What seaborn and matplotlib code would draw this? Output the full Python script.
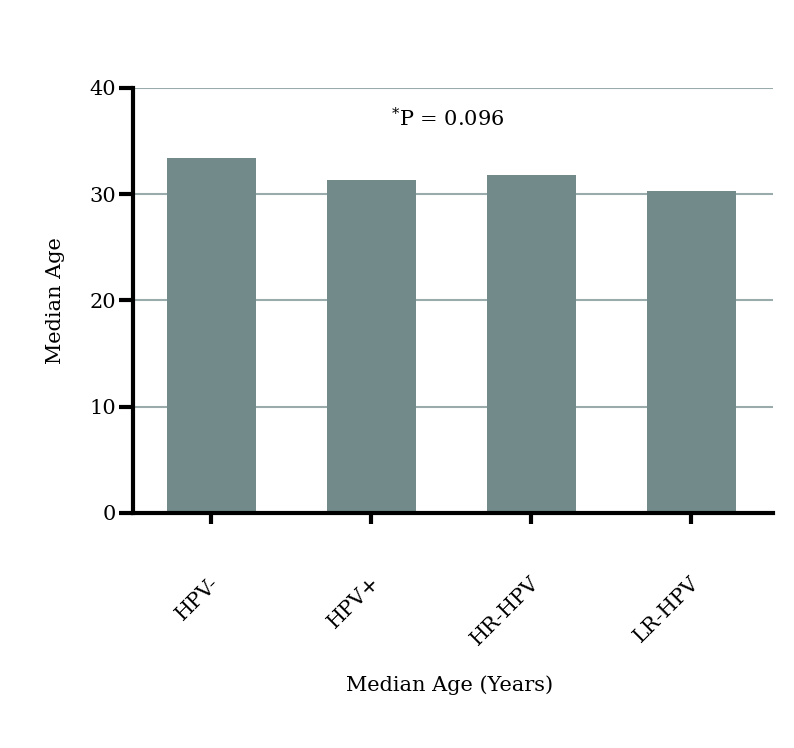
import matplotlib
matplotlib.use("Agg")
import matplotlib.pyplot as plt
import matplotlib.transforms as mtransforms
import seaborn as sns
import pandas as pd

categories = ["HPV-", "HPV+", "HR-HPV", "LR-HPV"]
median_age = [33.4, 31.3, 31.8, 30.3]
y_ticks = [0, 10, 20, 30, 40]

sns.set_style("white")
plt.rcParams["font.family"] = ["DejaVu Serif"]
plt.rcParams["mathtext.fontset"] = "dejavuserif"
plt.rcParams["text.color"] = "black"
plt.rcParams["axes.labelcolor"] = "black"
plt.rcParams["xtick.color"] = "black"
plt.rcParams["ytick.color"] = "black"

df = pd.DataFrame({"cat": categories, "age": median_age})

fig = plt.figure(figsize=(7.94, 7.48), dpi=100)
ax = fig.add_axes([133/794, 1-513/748, (773-133)/794, (513-88)/748])

for yv in y_ticks[1:]:
    ax.axhline(yv, color="#9aabab", lw=1.5, zorder=0)

sns.barplot(data=df, x="cat", y="age", color="#738a8a", saturation=1,
            width=0.56, ax=ax, zorder=2, linewidth=0)

fs = 15
ax.set_xlim(-0.49, 3.51)
ax.set_ylim(0, 40)
ax.set_yticks(y_ticks)
ax.set_yticklabels([str(v) for v in y_ticks], fontsize=fs)
ax.set_xticks(range(len(categories)))
ax.set_xticklabels(categories, rotation=45, ha="right", va="center",
                   rotation_mode="anchor", fontsize=fs)
ax.tick_params(axis="x", bottom=True, length=8, width=3, pad=40, color="black")
ax.tick_params(axis="y", left=True, length=10, width=3, pad=2, color="black")

offset = mtransforms.ScaledTranslation(5/100, 0, fig.dpi_scale_trans)
for lbl in ax.get_xticklabels():
    lbl.set_transform(lbl.get_transform() + offset)

for s in ["top", "right"]:
    ax.spines[s].set_visible(False)
for s in ["left", "bottom"]:
    ax.spines[s].set_linewidth(3)
    ax.spines[s].set_color("black")
    ax.spines[s].set_zorder(3)

ax.set_ylabel("Median Age", fontsize=fs)
ax.yaxis.set_label_coords(-0.106, 0.5)
ax.set_xlabel("Median Age (Years)", fontsize=fs)
ax.xaxis.set_label_coords(0.495, -0.382)

ax.text(1.125, 37.1, "$^{*}$P = 0.096", fontsize=fs, ha="left", va="center")

fig.savefig("out.png", dpi=100, facecolor="white")
